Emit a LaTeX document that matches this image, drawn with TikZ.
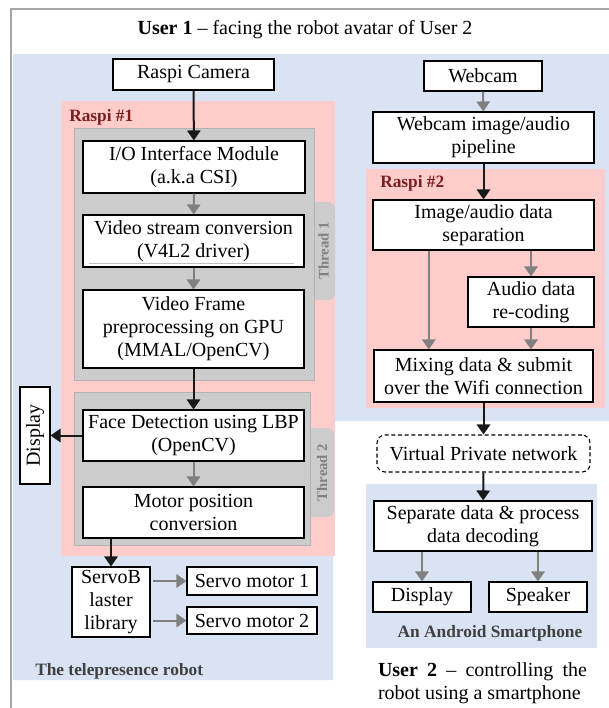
\documentclass[tikz,border=0pt]{standalone}
\usepackage{fontspec}
\setmainfont{Liberation Serif}
\usetikzlibrary{arrows.meta}

\definecolor{robotblue}{HTML}{DAE3F3}
\definecolor{raspipink}{HTML}{FFCCCC}
\definecolor{threadgray}{HTML}{CCCCCC}
\definecolor{raspired}{HTML}{7B1F1F}
\definecolor{labelgray}{HTML}{404040}
\definecolor{flowgray}{HTML}{808080}

\begin{document}
\begin{tikzpicture}[x=0.75pt, y=-0.75pt,
    font=\fontsize{15pt}{17.25pt}\selectfont,
    blk/.style 2 args={draw, line width=0.8pt, fill=white, align=center, inner sep=0pt,
        minimum width=#1*0.75pt, minimum height=#2*0.75pt},
    mainflow/.style={-{Triangle[width=10pt,length=7.5pt]}, line width=1.5pt, black!90},
    sideflow/.style={-{Triangle[width=10pt,length=7.5pt]}, line width=1.5pt, flowgray},
    tag/.style={font=\fontsize{13pt}{15pt}\selectfont\bfseries, inner sep=0pt},
    threadtag/.style={font=\fontsize{11pt}{13pt}\selectfont\bfseries, text=gray, rotate=90, inner sep=0pt}]
    \useasboundingbox (0,0) rectangle (609,708);

    % Frame round the whole setup
    \draw[gray!70, line width=1.5pt] (11,708) -- (11,9) -- (615,9);

    % Robot side, Raspi boards and threads
    \fill[robotblue] (13,54) -- (609,54) -- (609,421) -- (333,421) -- (333,680) -- (13,680) -- cycle;
    \fill[raspipink] (61,101) rectangle (335,556);
    \fill[raspipink] (366,169) rectangle (605,408);
    \fill[threadgray, rounded corners=5pt] (300,202) rectangle (335,300);
    \filldraw[fill=threadgray, draw=gray!60] (74,128) rectangle (314,380);
    \fill[threadgray, rounded corners=5pt] (300,428) rectangle (334,517);
    \filldraw[fill=threadgray, draw=gray!60] (74,392) rectangle (310,545);
    \fill[robotblue] (366,484) rectangle (597,648);

    % Labels
    \node (title) at (305,30) {\textbf{User 1} -- facing the robot avatar of User 2};
    \node[tag, text=raspired, anchor=west] (raspi1) at (69,117) {Raspi \#1};
    \node[tag, text=raspired, anchor=west] (raspi2) at (380,183) {Raspi \#2};
    \node[threadtag] (thread1) at (323.5,251) {Thread 1};
    \node[threadtag] (thread2) at (322,472.5) {Thread 2};
    \node[tag, text=labelgray, anchor=west] (robotlbl) at (35,671) {The telepresence robot};
    \node[tag, text=labelgray] (phonelbl) at (490,633) {An Android Smartphone};
    \node[text width=156.75pt, align=justify, inner sep=0pt] (user2) at (482.5,683.5)
        {\textbf{User 2} -- controlling the robot using a smartphone};

    % Camera pipeline on Raspi #1
    \node[blk={161}{31}] (cam) at (193.5,74.5) {Raspi Camera};
    \node[blk={222}{52}] (csi) at (194,167) {I/O Interface Module\\(a.k.a CSI)};
    \node[blk={221}{52}] (v4l2) at (193.5,241) {Video stream conversion\\(V4L2 driver)};
    \draw[gray!50, line width=0.5pt] ([shift={(7,-4)}]v4l2.south west) -- ([shift={(-11,-4)}]v4l2.south east);
    \node[blk={221}{78}] (gpu) at (193.5,329) {Video Frame\\preprocessing on GPU\\(MMAL/OpenCV)};
    \node[blk={221}{51}] (face) at (193.5,435.5) {Face Detection using LBP\\(OpenCV)};
    \node[blk={221}{51}] (motor) at (193.5,512.5) {Motor position\\conversion};
    \node[blk={97}{30}, rotate=90] (disp1) at (35,435.5) {Display};
    \node[blk={78}{70}] (servolib) at (111,602) {ServoB\\laster\\library};
    \node[blk={130}{28}] (servo1) at (252,581) {Servo motor 1};
    \node[blk={130}{27}] (servo2) at (252,620.5) {Servo motor 2};

    % Webcam pipeline on Raspi #2 and the phone
    \node[blk={118}{30}] (webcam) at (483,76) {Webcam};
    \node[blk={221}{51}] (pipe) at (483.5,137.5) {Webcam image/audio\\pipeline};
    \node[blk={221}{50}] (split) at (483.5,225) {Image/audio data\\separation};
    \node[blk={126}{50}] (audio) at (531,302) {Audio data\\re-coding};
    \node[blk={219}{52}] (mix) at (483.5,376) {Mixing data \& submit\\over the Wifi connection};
    \node[blk={213}{37}, dashed, dash pattern=on 3pt off 2pt, rounded corners=6pt] (vpn) at (483.5,453.5) {Virtual Private network};
    \node[blk={218}{50}] (decode) at (483,526) {Separate data \& process\\data decoding};
    \node[blk={98}{30}] (disp2) at (422,597) {Display};
    \node[blk={98}{30}] (speaker) at (538,597) {Speaker};

    % Connections
    \draw[mainflow] (cam) -- (csi);
    \draw[sideflow] (csi) -- (v4l2);
    \draw[sideflow] (v4l2) -- (gpu);
    \draw[mainflow] (gpu) -- (face);
    \draw[mainflow] (face) -- (disp1);
    \draw[sideflow] (face) -- (motor);
    \draw[mainflow] (motor.south -| servolib) -- (servolib);
    \draw[sideflow, shorten <=2pt] (servolib.east |- servo1) -- (servo1);
    \draw[sideflow, shorten <=2pt] (servolib.east |- servo2) -- (servo2);

    \draw[sideflow] (webcam) -- (pipe);
    \draw[mainflow] (pipe) -- (split);
    \draw[sideflow] (split.south -| audio) -- (audio);
    \draw[sideflow] ([xshift=-41pt]split.south) -- ([xshift=-41pt]split.south |- mix.north);
    \draw[sideflow] (audio) -- (audio |- mix.north);
    \draw[mainflow] (mix) -- (vpn);
    \draw[mainflow] (vpn) -- (decode);
    \draw[sideflow] (decode.south -| disp2) -- (disp2);
    \draw[sideflow] (decode.south -| speaker) -- (speaker);
\end{tikzpicture}
\end{document}
